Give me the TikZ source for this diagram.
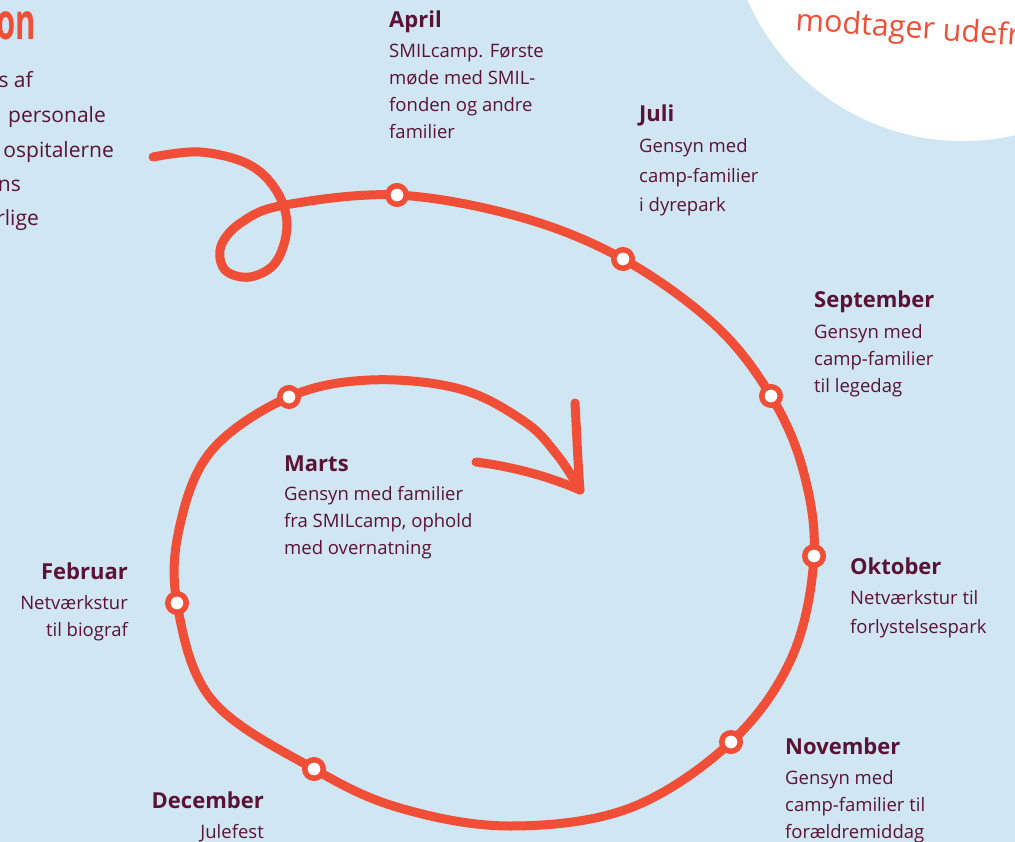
\documentclass[tikz,border=0pt]{standalone}
\usepackage{fontspec}
\setmainfont{Open Sans}
\usepackage{tikz}
\usetikzlibrary{positioning}

\definecolor{smilbg}{HTML}{D0E6F2}
\definecolor{smilred}{HTML}{F04E36}
\definecolor{smiltxt}{HTML}{5A1235}

\tikzset{
  spiral/.style={smilred, line width=9pt, line cap=round, line join=round},
  dot/.style={circle, draw=smilred, fill=white, line width=5.5pt, minimum size=18.5pt, inner sep=0pt},
  month/.style={smiltxt, inner sep=0pt, font=\fontsize{22}{26}\selectfont\bfseries},
  info/.style={smiltxt, inner sep=0pt, font=\fontsize{18.5}{27}\selectfont},
  wideinfo/.style={info, font=\fontsize{18.5}{29.5}\selectfont},
}

\begin{document}
\begin{tikzpicture}[x=1pt, y=-1pt]
    \useasboundingbox (0,0) rectangle (1015,842);
    \clip (0,0) rectangle (1015,842);
    \fill[smilbg] (0,0) rectangle (1015,842);

    % white bubble top right
    \fill[white] (963,-94) circle (235);
    \node[smilred, anchor=base west, rotate=-4, inner sep=0pt, font=\fontsize{30.5}{36}\selectfont] (bubble) at (795,30) {modtager udefr};

    % text cut off at the left edge
    \node[smilred, anchor=base east, inner sep=0pt, font=\fontsize{50}{60}\selectfont\bfseries] (title) at (36,40) {\scalebox{0.62}[1]{on}};
    \begin{scope}[every node/.style={smiltxt, anchor=base east, inner sep=0pt, font=\fontsize{21}{28}\selectfont}]
        \node (introA) at (33,88) {s af};
        \node (introB) at (106,123) {personale};
        \node (introC) at (114,158) {ospitalerne};
        \node (introD) at (21,192) {ns};
        \node (introE) at (39,226) {rlige};
    \end{scope}

    % points on the year
    \coordinate (apr) at (397,195);
    \coordinate (jul) at (623,259);
    \coordinate (sep) at (771,396);
    \coordinate (okt) at (814,556);
    \coordinate (nov) at (731,742);
    \coordinate (dec) at (314,769);
    \coordinate (feb) at (177,603);
    \coordinate (mar) at (289,397);
    \coordinate (tip) at (580,490);

    % the spiral
    \draw[spiral] plot[smooth, tension=0.6] coordinates {(153,157) (200,152) (248,164) (276,190) (287,225) (276,262) (250,277) (225,270) (221,246) (242,222) (285,205) (apr) (520,217) (jul) (715,325) (sep) (803,470) (okt) (792,657) (nov) (630,808) (510,826) (400,808) (dec) (212,700) (feb) (180,525) (212,450) (mar) (370,380) (460,389) (525,422) (558,456) (tip)};
    \draw[spiral] (tip) .. controls (578,465) and (577,440) .. (575,403);
    \draw[spiral] (tip) .. controls (550,477) and (515,467) .. (476,462);

    % markers
    \foreach \m in {apr,jul,sep,okt,nov,dec,feb,mar}
        \node[dot] (dot-\m) at (\m) {};

    % months
    \node[month, anchor=base west] (aprH) at (389,28) {April};
    \node[info, align=left, below right=15.5pt and 0pt of aprH.base west] (aprT) {SMILcamp. Første\\møde med SMIL-\\fonden og andre\\familier};
    \node[month, anchor=base west] (julH) at (639,122) {Juli};
    \node[wideinfo, align=left, below right=16.5pt and 0pt of julH.base west] (julT) {Gensyn med\\camp-familier\\i dyrepark};
    \node[month, anchor=base west] (sepH) at (814,308) {September};
    \node[info, align=left, below right=16pt and 0pt of sepH.base west] (sepT) {Gensyn med\\camp-familier\\til legedag};
    \node[month, anchor=base west] (oktH) at (850,574) {Oktober};
    \node[wideinfo, align=left, below right=16pt and 0pt of oktH.base west] (oktT) {Netværkstur til\\forlystelsespark};
    \node[month, anchor=base west] (novH) at (785,754) {November};
    \node[info, align=left, below right=16pt and 0pt of novH.base west] (novT) {Gensyn med\\camp-familier til\\forældremiddag};
    \node[month, anchor=base east] (decH) at (264,808) {December};
    \node[info, align=right, below left=16pt and 0pt of decH.base east] (decT) {Julefest};
    \node[month, anchor=base east] (febH) at (128,579) {Februar};
    \node[info, align=right, below left=16pt and 0pt of febH.base east] (febT) {Netværkstur\\til biograf};
    \node[month, anchor=base west] (marH) at (284,471) {Marts};
    \node[info, align=left, below right=15.5pt and 0pt of marH.base west] (marT) {Gensyn med familier\\fra SMILcamp, ophold\\med overnatning};
\end{tikzpicture}
\end{document}
